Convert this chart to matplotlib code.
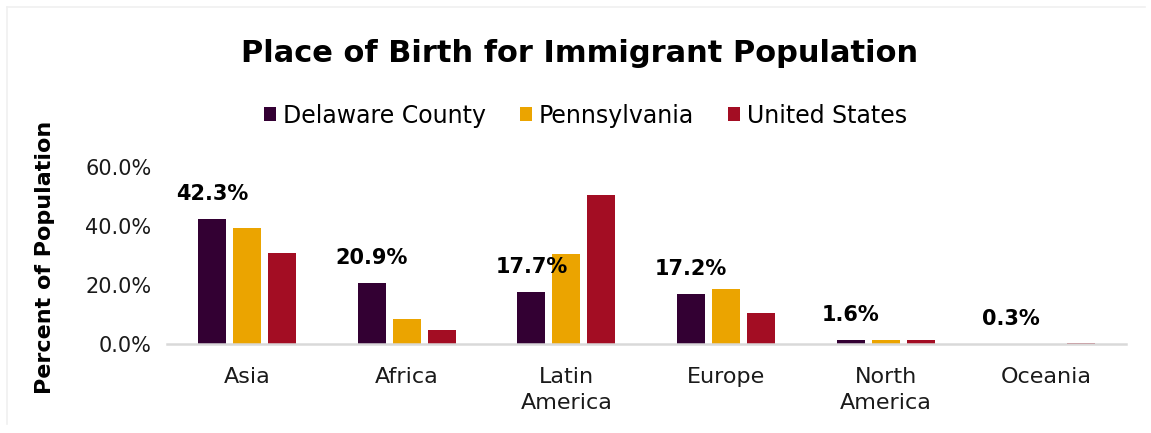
import matplotlib
matplotlib.use("Agg")
import matplotlib.pyplot as plt
import numpy as np

plt.rcParams['font.family'] = ['DejaVu Sans']

categories = ["Asia", "Africa", "Latin\nAmerica", "Europe", "North\nAmerica", "Oceania"]
series_names = ["Delaware County", "Pennsylvania", "United States"]
delaware = [42.3, 20.9, 17.7, 17.2, 1.6, 0.3]
pennsylvania = [39.3, 8.5, 30.6, 18.9, 1.5, 0.2]
united_states = [30.8, 4.8, 50.6, 10.7, 1.6, 0.5]
colors = ["#330033", "#EBA400", "#A30D23"]
yticks = [0, 20, 40, 60]

fig = plt.figure(figsize=(11.51, 4.33), dpi=100)
ax = fig.add_axes([0.145, 0.2044, 0.833, 0.4096])

x = np.arange(len(categories))
bw = 0.175
step = 0.219
series = [delaware, pennsylvania, united_states]
for i, (vals, name, c) in enumerate(zip(series, series_names, colors)):
    ax.bar(x + (i - 1) * step, vals, width=bw, color=c, label=name, zorder=2)

# value labels above the Delaware County bars
for xi, v in zip(x, delaware):
    ax.annotate(f"{v:.1f}%", xy=(xi - step, v), xytext=(0, 18),
                textcoords="offset points", ha="center", va="center",
                fontsize=15, fontweight="bold", color="black")

ax.set_xlim(-0.5, len(categories) - 0.5)
ax.set_ylim(0, 60)
ax.set_yticks(yticks)
ax.set_yticklabels([f"{t:.1f}%" for t in yticks], fontsize=15, color="#1a1a1a")
ax.set_xticks(x)
ax.set_xticklabels(categories, fontsize=16, color="#1a1a1a", linespacing=1.4)
ax.tick_params(axis="both", length=0)
ax.tick_params(axis="x", pad=16)
ax.tick_params(axis="y", pad=11)
for s in ["top", "right", "left"]:
    ax.spines[s].set_visible(False)
ax.spines["bottom"].set_color("#d9d9d9")
ax.spines["bottom"].set_linewidth(1.8)
ax.spines["bottom"].set_zorder(3)

fig.text(0.5035, 0.877, "Place of Birth for Immigrant Population", ha="center",
         va="center", fontsize=22, fontweight="bold")
fig.text(0.039, 0.405, "Percent of Population", rotation=90, ha="center",
         va="center", fontsize=16, fontweight="bold")

fig.legend(loc="center", bbox_to_anchor=(0.5087, 0.733), ncol=3, frameon=False,
           fontsize=17, handlelength=0.5, handleheight=0.55, handletextpad=0.3,
           columnspacing=1.45)

# faint panel frame
fig.add_artist(plt.Line2D([0.006, 0.995], [0.983, 0.983], color="#f0f0f0", lw=1.2))
fig.add_artist(plt.Line2D([0.006, 0.006], [0.02, 0.983], color="#f0f0f0", lw=1.2))

fig.savefig("out.png", dpi=100)
